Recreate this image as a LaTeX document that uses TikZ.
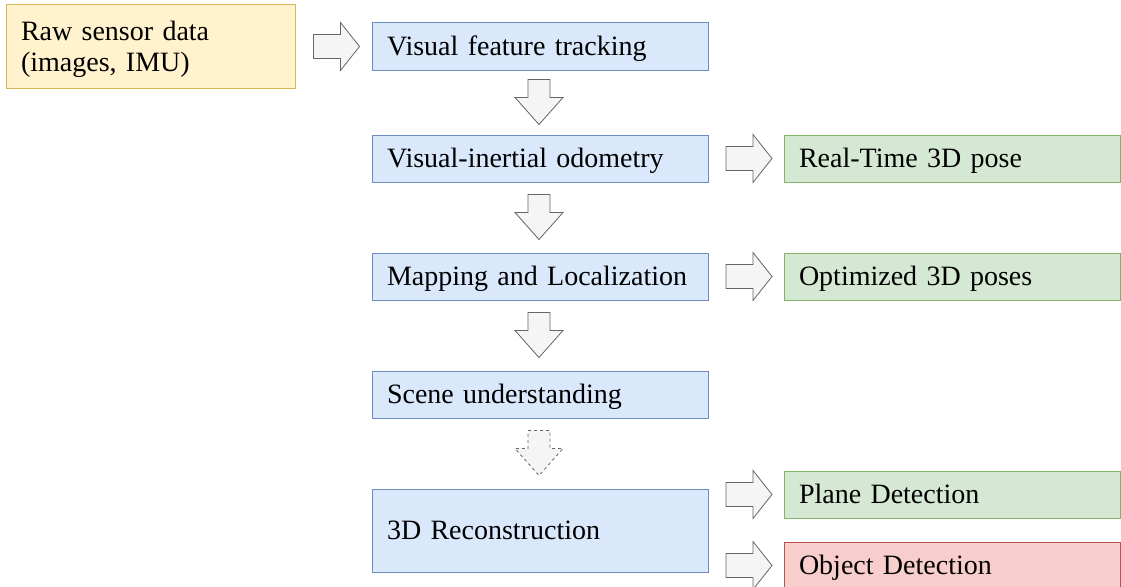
\documentclass[tikz,border=0pt]{standalone}
\usepackage{fontspec}
\setmainfont{Liberation Serif}
\usetikzlibrary{calc}
\definecolor{bfill}{HTML}{DAE8FC}\definecolor{bdraw}{HTML}{6C8EBF}
\definecolor{yfill}{HTML}{FFF2CC}\definecolor{ydraw}{HTML}{D6B656}
\definecolor{gfill}{HTML}{D5E8D4}\definecolor{gdraw}{HTML}{82B366}
\definecolor{rfill}{HTML}{F8CECC}\definecolor{rdraw}{HTML}{B85450}
\definecolor{afill}{HTML}{F5F5F5}\definecolor{adraw}{HTML}{666666}
\tikzset{
  box/.style={draw=bdraw, fill=bfill, line width=1pt, minimum width=336pt, minimum height=47pt,
    text width=306pt, inner xsep=15pt, inner ysep=0pt, align=left,
    text height=20pt, text depth=2pt,
    font=\fontsize{28}{31}\selectfont},
  bluebox/.style={box},
  yellowbox/.style={box, draw=ydraw, fill=yfill, minimum width=289pt, text width=259pt, minimum height=83pt,
    text height=25pt, text depth=},
  greenbox/.style={box, draw=gdraw, fill=gfill},
  redbox/.style={box, draw=rdraw, fill=rfill},
  blockarrow/.style={draw=adraw, fill=afill, line width=0.8pt, line join=miter},
  pics/rarr/.style={code={\draw[blockarrow,#1] (-23,-12) -- (4,-12) -- (4,-24) -- (23,0) -- (4,24) -- (4,12) -- (-23,12) -- cycle;}},
  pics/rarr/.default={},
  pics/darr/.style={code={\draw[blockarrow,#1] (-11,-23) -- (11,-23) -- (11,-5) -- (24,-5) -- (0,22) -- (-24,-5) -- (-11,-5) -- cycle;}},
  pics/darr/.default={},
}
\begin{document}
\begin{tikzpicture}[x=1pt,y=-1pt]
\useasboundingbox (0,0) rectangle (1121,586);
\clip (0,0) rectangle (1121,586);
\node[yellowbox] (raw) at (150.5,46.5) {Raw sensor data\\(images, IMU)};
\node[bluebox] (vft) at (540,46.5) {Visual feature tracking};
\node[bluebox] (vio) at (540,158.5) {Visual-inertial odometry};
\node[bluebox] (map) at (540,276.5) {Mapping and Localization};
\node[bluebox] (scene) at (540,394.5) {Scene understanding};
\node[bluebox, minimum height=83pt] (recon) at (540,530.5) {3D Reconstruction};
\node[greenbox] (rt) at (952,158.5) {Real-Time 3D pose};
\node[greenbox] (opt) at (952,276.5) {Optimized 3D poses};
\node[greenbox] (plane) at (952,494.5) {Plane Detection};
\node[redbox] (obj) at (952,565.5) {Object Detection};
% connectors
\pic at ($(raw.east)!0.5!(vft.west)+(3,0)$) {rarr};
\pic at ($(vft.south)!0.5!(vio.north)+(-1,0)$) {darr};
\pic at ($(vio.south)!0.5!(map.north)+(-1,0)$) {darr};
\pic at ($(map.south)!0.5!(scene.north)+(-1,0)$) {darr};
\pic at ($(scene.south)!0.5!(recon.north)+(-1,0)$) {darr=dashed};
\pic at ($(vio.east)!0.5!(rt.west)+(3,0)$) {rarr};
\pic at ($(map.east)!0.5!(opt.west)+(3,0)$) {rarr};
\pic at ($(recon.east |- plane.west)!0.5!(plane.west)+(3,0)$) {rarr};
\pic at ($(recon.east |- obj.west)!0.5!(obj.west)+(3,0)$) {rarr};
\end{tikzpicture}
\end{document}
